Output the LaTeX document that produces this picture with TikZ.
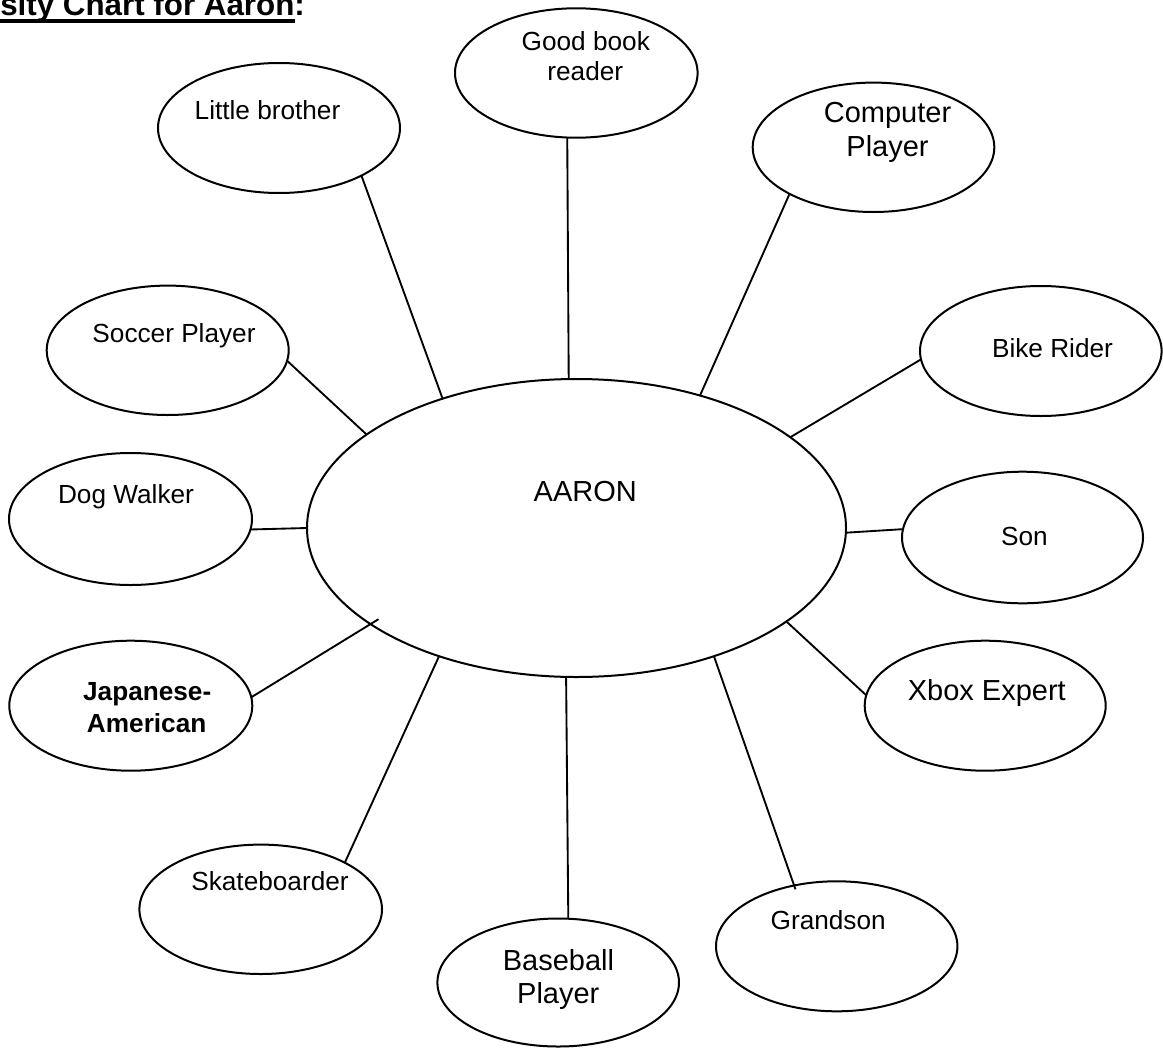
\documentclass[tikz,border=0pt]{standalone}
\usepackage{fontspec}
\setmainfont{Liberation Sans}
\usetikzlibrary{shapes.geometric}
\tikzset{
  bub/.style 2 args={ellipse, draw=black, line width=1.5pt, minimum width=#1*0.75pt, minimum height=#2*0.75pt, inner sep=0pt, outer sep=0pt},
  lbl/.style={anchor=base, inner sep=0pt, font=\fontsize{19.65pt}{23pt}\selectfont},
  lblbig/.style={anchor=base, inner sep=0pt, font=\fontsize{21.75pt}{26pt}\selectfont},
  lblbold/.style={anchor=base, inner sep=0pt, font=\fontsize{19.65pt}{23pt}\selectfont\bfseries},
  conn/.style={draw=black, line width=1.4pt}
}
\begin{document}
\begin{tikzpicture}[x=0.75pt, y=-0.75pt]
\useasboundingbox (0,0) rectangle (1163,1049);
\clip (0,0) rectangle (1163,1049);
% title (cut off at the top and left, as in the reference)
\node[anchor=base west, inner sep=0pt, font=\fontsize{23.5pt}{28pt}\selectfont\bfseries] (title) at (0,16) {sity Chart for Aaron:};
\fill[black] (-5,19) rectangle (295,22.7);
% bubbles
\node[bub={242}{130}] (lb) at (279,128) {};
\node[bub={242.6}{129.4}] (gb) at (576.3,73) {};
\node[bub={241.6}{129.4}] (cp) at (873.5,147.3) {};
\node[bub={242}{129.4}] (sp) at (167.7,350.3) {};
\node[bub={241.6}{130}] (br) at (1040.8,351) {};
\node[bub={243}{132}] (dw) at (130.5,519) {};
\node[bub={539}{298}] (aa) at (576.5,528) {};
\node[bub={241}{131.6}] (sn) at (1022.5,537.5) {};
\node[bub={243}{130}] (ja) at (130.8,705.7) {};
\node[bub={241}{130}] (xb) at (985.2,705.7) {};
\node[bub={242.6}{129.4}] (sk) at (260.7,909.3) {};
\node[bub={241.4}{130}] (gs) at (836.7,946.3) {};
\node[bub={241.6}{128}] (bb) at (558.2,982.5) {};
% labels
\node[lbl] (tlb) at (267.5,119) {Little brother};
\node[lbl] (tgb1) at (585.8,51) {Good book};
\node[lbl] (tgb2) at (585.3,80) {reader};
\node[lblbig] (tcp1) at (887.5,122.7) {Computer};
\node[lblbig] (tcp2) at (887.5,156.7) {Player};
\node[lbl] (tsp) at (174,342) {Soccer Player};
\node[lbl] (tbr) at (1052.5,357.3) {Bike Rider};
\node[lbl] (tdw) at (126,503) {Dog Walker};
\node[lblbig] (taa) at (585.3,501.7) {AARON};
\node[lbl] (tsn) at (1024.5,545.7) {Son};
\node[lblbold] (tja1) at (147.2,700) {Japanese-};
\node[lblbold] (tja2) at (146.7,732.3) {American};
\node[lblbig] (txb) at (986.8,700.7) {Xbox Expert};
\node[lbl] (tsk) at (270,890.7) {Skateboarder};
\node[lbl] (tgs) at (828.2,929) {Grandson};
\node[lblbig] (tbb1) at (558.5,970) {Baseball};
\node[lblbig] (tbb2) at (558.3,1003) {Player};
% connectors
\draw[conn] (lb.330.8) -- (aa.136.8);
\draw[conn] (gb.262.1) -- (aa.93.5);
\draw[conn] (cp.209.4) -- (aa.47);
\draw[conn] (sp.355.4) -- (aa.156.5);
\draw[conn] (br.184.3) -- (aa.23.6);
\draw[conn] (dw.355.3) -- (aa.180.2);
\draw[conn] (sn.176) -- (aa.359.8);
\draw[conn, shorten >=-7pt] (ja.4.7) -- (aa.205.9);
\draw[conn] (xb.175.3) -- (aa.336.3);
\draw[conn] (sk.29.1) -- (aa.223.1);
\draw[conn] (bb.81.8) -- (aa.266.5);
\draw[conn, shorten <=-3pt] (gs.125.9) -- (aa.317);
\end{tikzpicture}
\end{document}
